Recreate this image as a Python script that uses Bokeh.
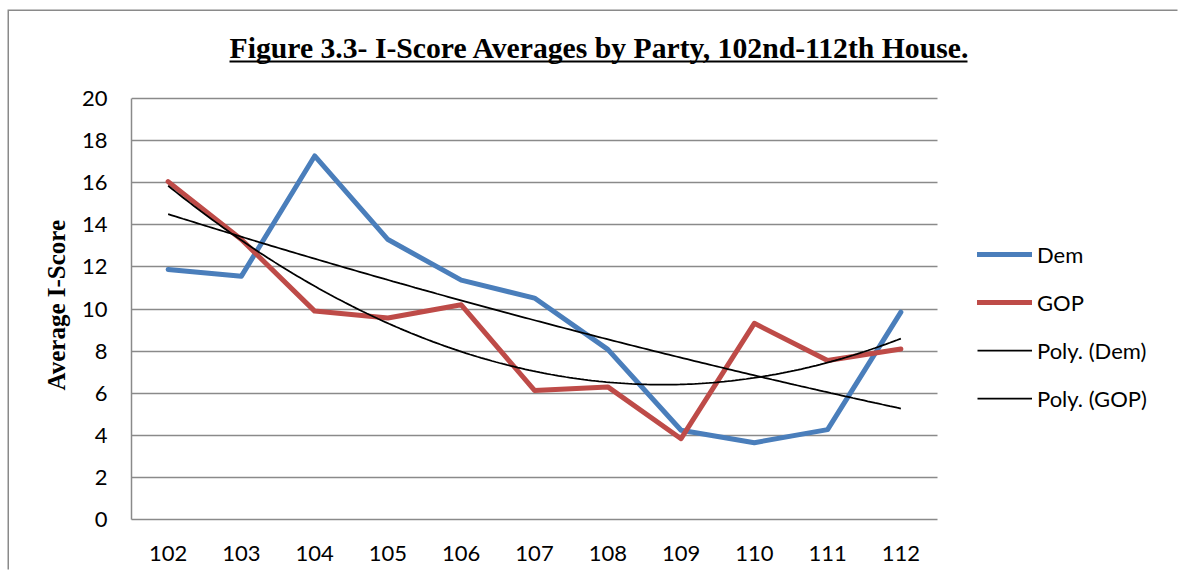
import numpy as np
from bokeh.plotting import figure
from bokeh.models import Range1d, FixedTicker, Legend, LegendItem, Arrow, Label, Title
from bokeh.embed import file_html
from bokeh.resources import INLINE
from bokeh.core.properties import value

# ---- data ----
congress = [102, 103, 104, 105, 106, 107, 108, 109, 110, 111, 112]
tick_labels = ["102", "103", "104", "105", "106", "107", "108", "109", "110", "111", "112"]
dem = [11.88, 11.56, 17.27, 13.30, 11.37, 10.52, 8.08, 4.24, 3.65, 4.27, 9.85]
gop = [16.05, 13.30, 9.90, 9.57, 10.20, 6.13, 6.30, 3.84, 9.32, 7.55, 8.10]
y_ticks = [0, 2, 4, 6, 8, 10, 12, 14, 16, 18, 20]
series_names = ["Dem", "GOP", "Poly. (Dem)", "Poly. (GOP)"]
title_text = "Figure 3.3- I-Score Averages by Party, 102nd-112th House."
y_title = "Average I-Score"

# polynomial (order 2) trend lines, as Excel's "Poly." trendline
xs = np.linspace(congress[0], congress[-1], 200)
dem_fit = np.polyval(np.polyfit(congress, dem, 2), xs)
gop_fit = np.polyval(np.polyfit(congress, gop, 2), xs)

GRID = "#8a8a8a"
TICK_FONT = "Lato"

# ---- layout (pixels) ----
W, H = 1170, 560                    # canvas size (shifted by 9, 11 on the page)
PLOT_W = 806                        # width of the category area (11 categories)
PLOT_H = 421                        # height of the 0..20 value area
LEFT, RIGHT = 122, 0
BOTTOM = 52
x0, x1 = congress[0] - 0.5, congress[-1] + 0.5
y0, y1 = y_ticks[0], y_ticks[-1]
frame_w = W - LEFT - RIGHT
frame_h = H - BOTTOM
x_end = x0 + (x1 - x0) * frame_w / PLOT_W
y_end = y0 + (y1 - y0) * frame_h / PLOT_H

p = figure(width=W, height=H, output_backend="svg", toolbar_location=None,
           x_range=Range1d(x0, x_end), y_range=Range1d(y0, y_end),
           min_border_left=LEFT, min_border_right=RIGHT, min_border_top=0, min_border_bottom=BOTTOM)
p.outline_line_color = None
p.background_fill_color = "white"
p.border_fill_color = "white"
# shift the chart on the page and draw the chart-area border (only its left
# and top edges are visible in the reference)
p.styles = {"transform": "translate(9px, 11px)",
            "box-shadow": "-1.5px -1.5px 0 0 #8a8a8a"}

# axes
p.xaxis.ticker = FixedTicker(ticks=congress)
p.xaxis.major_label_overrides = {c: l for c, l in zip(congress, tick_labels)}
p.xaxis.bounds = (x0, x1)
p.yaxis.ticker = FixedTicker(ticks=y_ticks)
p.yaxis.bounds = (y0, y1)
for ax in (p.xaxis[0], p.yaxis[0]):
    ax.major_tick_line_color = None
    ax.minor_tick_line_color = None
    ax.major_tick_out = 0
    ax.major_tick_in = 0
    ax.axis_line_color = GRID
    ax.axis_line_width = 1.5
    ax.major_label_text_font = TICK_FONT
    ax.major_label_text_font_size = "22px"
    ax.major_label_text_color = "black"
p.xaxis.major_label_standoff = 26
p.yaxis.major_label_standoff = 24

# y axis title, centred on the 0..20 value area
p.add_layout(Title(text=y_title, align="left", offset=129, standoff=18,
                   text_font="Liberation Serif", text_font_style="bold", text_font_size="25px",
                   text_color="black"), "left")

p.xgrid.visible = False
p.ygrid.grid_line_color = GRID
p.ygrid.grid_line_width = 1.5
p.ygrid.cross_bounds = (x0, x1)

# series
r_dem = p.line(congress, dem, line_color="#4A7EBB", line_width=5, line_cap="round", line_join="round")
r_gop = p.line(congress, gop, line_color="#BE4B48", line_width=5, line_cap="round", line_join="round")
r_pd = p.line(xs, dem_fit, line_color="black", line_width=1.75)
r_pg = p.line(xs, gop_fit, line_color="black", line_width=1.75)

legend = Legend(items=[LegendItem(label=value(n), renderers=[r]) for n, r in
                       zip(series_names, [r_dem, r_gop, r_pd, r_pg])],
                location=(846, 106), padding=0, margin=0, border_line_color=None,
                background_fill_alpha=0, glyph_width=55, glyph_height=30, label_height=30,
                spacing=18, label_standoff=5, label_text_font=TICK_FONT,
                label_text_font_size="22px", label_text_color="black")
p.add_layout(legend)

# title (underlined)
p.add_layout(Label(x=98, y=472, x_units="screen", y_units="screen", text=title_text,
                   text_font="Liberation Serif", text_font_style="bold", text_font_size="29.7px",
                   text_align="left", text_baseline="alphabetic", text_color="black"))
p.add_layout(Arrow(x_start=98, x_end=836, y_start=458, y_end=458,
                   start_units="screen", end_units="screen", start=None, end=None,
                   line_color="black", line_width=2))

open("out.html", "w").write(file_html(p, INLINE))
